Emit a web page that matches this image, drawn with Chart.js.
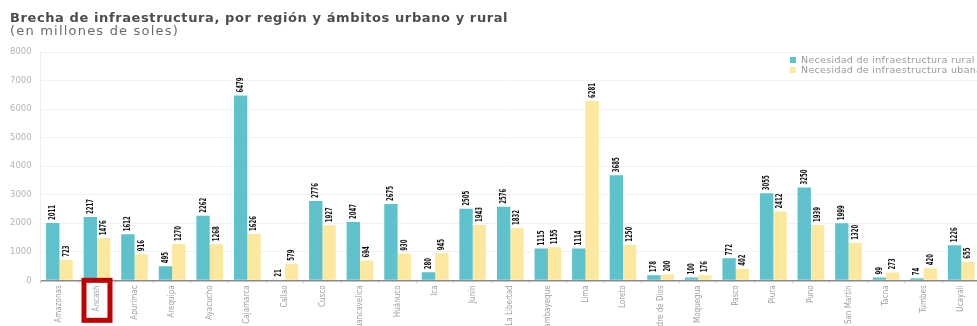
<!DOCTYPE html>
<html>
<head>
<meta charset="utf-8">
<script src="https://cdn.jsdelivr.net/npm/chart.js"></script>
<style>
    html, body { margin: 0; padding: 0; background: #fff; overflow: hidden; width: 977px; height: 326px; }
    #wrap { position: relative; width: 977px; height: 326px; overflow: hidden; }
    #brecha { position: absolute; left: 0; top: 0; }
    .titulo { position: absolute; left: 10px; top: 10px; font: bold 13px 'DejaVu Sans', sans-serif; letter-spacing: 0.6px; color: #4d4d4d; white-space: nowrap; }
    .subtitulo { position: absolute; left: 10px; top: 23px; font: 13px 'DejaVu Sans', sans-serif; letter-spacing: 1.2px; color: #6b6b6b; white-space: nowrap; }
    .leyenda { position: absolute; left: 790px; top: 55px; font: 9.5px 'DejaVu Sans', sans-serif; letter-spacing: 0.3px; color: #9a9a9a; white-space: nowrap; line-height: 9.5px; }
    .leyenda span { display: inline-block; width: 6px; height: 6px; margin-right: 5px; }
</style>
</head>
<body>
<div id="wrap">
    <canvas id="brecha" width="980" height="339"></canvas>
    <div class="titulo">Brecha de infraestructura, por región y ámbitos urbano y rural</div>
    <div class="subtitulo">(en millones de soles)</div>
    <div class="leyenda">
        <div><span style="background:#5ec1cb"></span>Necesidad de infraestructura rural</div>
        <div><span style="background:#fce99f"></span>Necesidad de infraestructura ubana</div>
    </div>
</div>

<script>
    const regiones = ['Amazonas', 'Áncash', 'Apurímac', 'Arequipa', 'Ayacucho', 'Cajamarca', 'Callao', 'Cusco',
        'Huancavelica', 'Huánuco', 'Ica', 'Junín', 'La Libertad', 'Lambayeque', 'Lima', 'Loreto',
        'Madre de Dios', 'Moquegua', 'Pasco', 'Piura', 'Puno', 'San Martín', 'Tacna', 'Tumbes', 'Ucayali'];
    const rural = [2011, 2217, 1612, 495, 2262, 6479, 21, 2776, 2047, 2675, 280, 2505, 2576, 1115, 1114, 3685,
        178, 100, 772, 3055, 3250, 1999, 99, 74, 1226];
    const urbana = [723, 1476, 916, 1270, 1268, 1626, 579, 1927, 694, 930, 945, 1943, 1832, 1155, 6281, 1250,
        200, 176, 402, 2412, 1939, 1320, 273, 420, 655];
    const ticksY = [0, 1000, 2000, 3000, 4000, 5000, 6000, 7000, 8000];

    // etiquetas de valor verticales encima de cada barra
    const etiquetas = {
        id: 'etiquetas',
        afterDatasetsDraw(chart) {
            const ctx = chart.ctx;
            ctx.save();
            ctx.font = "bold 9.5px 'DejaVu Sans Condensed', 'DejaVu Sans', sans-serif";
            ctx.fillStyle = '#111';
            ctx.textAlign = 'left';
            ctx.textBaseline = 'middle';
            chart.data.datasets.forEach(function(ds, i) {
                chart.getDatasetMeta(i).data.forEach(function(bar, j) {
                    ctx.save();
                    ctx.translate(bar.x, bar.y - 3);
                    ctx.rotate(-Math.PI / 2);
                    ctx.scale(0.63, 1);
                    ctx.fillText(String(ds.data[j]), 0, 0);
                    ctx.restore();
                });
            });
            ctx.restore();
        }
    };

    // recuadro rojo alrededor de Áncash
    const recuadro = {
        id: 'recuadro',
        afterDraw(chart) {
            const ctx = chart.ctx;
            const x = chart.scales.x.getPixelForValue(1);
            const top = chart.chartArea.bottom;
            ctx.save();
            ctx.strokeStyle = '#c00000';
            ctx.lineWidth = 5;
            ctx.strokeRect(x - 13, top, 26, 40);
            ctx.restore();
        }
    };

    new Chart(document.getElementById('brecha'), {
        type: 'bar',
        data: {
            labels: regiones,
            datasets: [
                { label: 'Necesidad de infraestructura rural', data: rural, backgroundColor: '#5ec1cb',
                  categoryPercentage: 0.71, barPercentage: 1.0 },
                { label: 'Necesidad de infraestructura ubana', data: urbana, backgroundColor: '#fce99f',
                  categoryPercentage: 0.71, barPercentage: 1.0 }
            ]
        },
        options: {
            responsive: false,
            animation: false,
            layout: { padding: { left: 1, top: 52, right: 0, bottom: 0 } },
            plugins: {
                legend: { display: false },
                tooltip: { enabled: false }
            },
            scales: {
                x: {
                    grid: { drawOnChartArea: false, tickLength: 3, color: '#cfcfcf' },
                    border: { color: '#8a8a8a', width: 1.5 },
                    ticks: {
                        minRotation: 90, maxRotation: 90, autoSkip: false, padding: 2,
                        color: '#a0a0a0',
                        font: { family: "'DejaVu Sans Condensed'", size: 8 }
                    }
                },
                y: {
                    min: 0, max: 8000,
                    afterBuildTicks: function(axis) { axis.ticks = ticksY.map(v => ({ value: v })); },
                    grid: { color: '#f2f2f2', drawTicks: false },
                    border: { color: '#eeeeee' },
                    ticks: {
                        padding: 9, color: '#b5b5b5',
                        font: { family: 'DejaVu Sans', size: 8.5 },
                        callback: function(v) { return String(v); }
                    }
                }
            }
        },
        plugins: [etiquetas, recuadro]
    });
</script>
</body>
</html>
